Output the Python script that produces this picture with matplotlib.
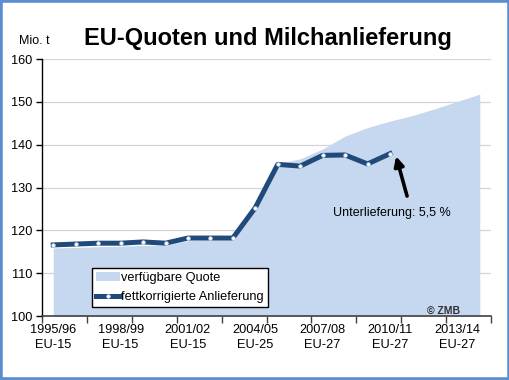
import matplotlib
matplotlib.use("Agg")
import matplotlib.pyplot as plt
from matplotlib.patches import Patch, Rectangle
from matplotlib.lines import Line2D
import numpy as np

plt.rcParams['font.family'] = ['Liberation Sans', 'DejaVu Sans']

seasons = ['1995/96', '1996/97', '1997/98', '1998/99', '1999/00', '2000/01',
           '2001/02', '2002/03', '2003/04', '2004/05', '2005/06', '2006/07',
           '2007/08', '2008/09', '2009/10', '2010/11', '2011/12', '2012/13',
           '2013/14', '2014/15']
eu = ['EU-15'] * 9 + ['EU-25'] * 3 + ['EU-27'] * 8
quota = [115.9, 116.0, 116.2, 116.3, 116.5, 116.5, 117.6, 117.7, 117.7, 125.5,
         135.6, 136.7, 139.0, 142.0, 144.0, 145.5, 146.8, 148.4, 150.1, 151.8]
delivery = [116.6, 116.8, 117.0, 117.0, 117.3, 117.0, 118.2, 118.2, 118.2, 125.3,
            135.4, 135.0, 137.5, 137.6, 135.5, 137.9]
label_idx = [0, 3, 6, 9, 12, 15, 18]
tick_labels = [f"{seasons[i]}\n{eu[i]}" for i in label_idx]

area_color = '#C6D8EF'
line_color = '#1F4A7A'

fig = plt.figure(figsize=(5.1, 3.8), dpi=100)
ax = fig.add_axes([0.0824, 0.1684, 0.8804, 0.6763])

x_q = np.arange(len(quota))
x_d = np.arange(len(delivery))

ax.fill_between(x_q, 100, quota, color=area_color, linewidth=0, zorder=2)
ax.plot(x_d, delivery, color=line_color, lw=3.6, zorder=3,
        marker='o', markersize=2.6, markerfacecolor='white',
        markeredgecolor='#C8D4E6', markeredgewidth=0.5)

ax.set_xlim(-0.5, len(seasons) - 0.5)
ax.set_ylim(100, 160)
ax.set_yticks(np.arange(100, 161, 10))
ax.yaxis.grid(True, color='#D4D4D4', lw=0.9)
ax.set_axisbelow(True)

ax.set_xticks(label_idx)
ax.set_xticklabels(tick_labels, fontsize=9.2, linespacing=1.25)
ax.set_xticks(np.arange(-0.5, len(seasons), 2), minor=True)
ax.tick_params(axis='x', which='major', length=0, pad=6)
ax.tick_params(axis='x', which='minor', length=5, width=1, color='#404040', direction='out')
ax.tick_params(axis='y', length=4, width=1, labelsize=9.2, pad=3)

for s in ['top', 'right']:
    ax.spines[s].set_visible(False)
ax.spines['left'].set_color('black')
ax.spines['left'].set_linewidth(1)
ax.spines['bottom'].set_color('#404040')
ax.spines['bottom'].set_linewidth(1.2)
ax.spines['bottom'].set_zorder(4)

handles = [Patch(facecolor=area_color, edgecolor='none'),
           Line2D([], [], color=line_color, lw=3.6, marker='o', markersize=2.6,
                  markerfacecolor='white', markeredgecolor='#C8D4E6', markeredgewidth=0.5)]
leg = ax.legend(handles, ['verfügbare Quote', 'fettkorrigierte Anlieferung'],
                loc='lower left', bbox_to_anchor=(0.111, 0.035), fontsize=9.2,
                frameon=True, fancybox=False, edgecolor='black', facecolor='white',
                framealpha=1, handlelength=1.9, handletextpad=0.1,
                borderpad=0.3, labelspacing=0.55, borderaxespad=0)
leg.get_frame().set_linewidth(1.0)
leg.set_zorder(5)

ax.annotate('', xy=(15.27, 137.3), xytext=(15.76, 128.0),
            arrowprops=dict(arrowstyle='-|>', color='black', lw=2.6,
                            mutation_scale=14, shrinkA=0, shrinkB=0), zorder=6)
ax.text(15.09, 124.0, 'Unterlieferung: 5,5 %', fontsize=9, ha='center', va='center', zorder=6)
ax.text(17.4, 101.3, '© ZMB', fontsize=7.5, fontweight='bold', color='#303030',
        ha='center', va='center', zorder=6)

fig.text(0.526, 0.898, 'EU-Quoten und Milchanlieferung', fontsize=17,
         fontweight='bold', ha='center', va='center')
fig.text(0.038, 0.892, 'Mio. t', fontsize=9, ha='left', va='center')

fig.patches.append(Rectangle((0, 0), 1, 1, transform=fig.transFigure, fill=False,
                             edgecolor='#5B8DD0', linewidth=4, zorder=10))

fig.savefig('out.png', dpi=100)
